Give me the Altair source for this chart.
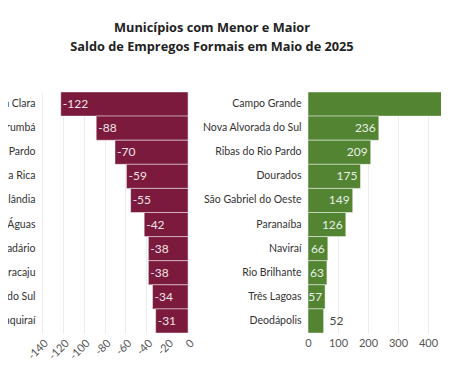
import altair as alt
import pandas as pd

neg_names = ["Água Clara", "Corumbá", "Santa Rita do Pardo", "Costa Rica", "Sidrolândia",
             "Paraíso das Águas", "Ladário", "Maracaju", "Chapadão do Sul", "Itaquiraí"]
neg_values = [-122, -88, -70, -59, -55, -42, -38, -38, -34, -31]
pos_names = ["Campo Grande", "Nova Alvorada do Sul", "Ribas do Rio Pardo", "Dourados",
             "São Gabriel do Oeste", "Paranaíba", "Naviraí", "Rio Brilhante", "Três Lagoas", "Deodápolis"]
pos_values = [620, 236, 209, 175, 149, 126, 66, 63, 57, 52]
neg_ticks = [-140, -120, -100, -80, -60, -40, -20, 0]
pos_ticks = [0, 100, 200, 300, 400, 500, 600, 700]
title_lines = ["Municípios com Menor e Maior", "Saldo de Empregos Formais em Maio de 2025"]

neg_df = pd.DataFrame({"municipio": neg_names, "saldo": neg_values})
pos_df = pd.DataFrame({"municipio": pos_names, "saldo": pos_values})

FONT = "Lato"
MAROON = "#7b1a3c"
GREEN = "#528432"


def y_enc(order):
    return alt.Y("municipio:N", sort=order, title=None,
                 scale=alt.Scale(paddingInner=0, paddingOuter=0),
                 axis=alt.Axis(domain=False, ticks=False, labelPadding=7, labelFont=FONT,
                               labelFontSize=10.5, labelColor="#333333", labelLimit=300))


def x_enc(domain, vals, angle):
    return alt.X("saldo:Q", scale=alt.Scale(domain=domain, nice=False),
                 axis=alt.Axis(values=vals, labelAngle=angle, grid=True, gridColor="#ececec",
                               domain=False, ticks=False, labelFont=FONT, labelFontSize=11,
                               labelColor="#555555", labelPadding=4, title=None,
                               labelOverlap=False, labelFlush=False,
                               labelExpr="datum.value + ''"))


left_bars = alt.Chart(neg_df).mark_bar(color=MAROON, stroke="white", strokeWidth=1,
                                       strokeOpacity=0.45).encode(
    x=x_enc([-140, 0], neg_ticks, -45), y=y_enc(neg_names))
left_text = alt.Chart(neg_df).transform_calculate(lab="datum.saldo + ''").mark_text(
    align="left", dx=2, color="white", opacity=0.88, font=FONT, fontSize=12).encode(
    x=x_enc([-140, 0], neg_ticks, -45), y=y_enc(neg_names), text="lab:N")
left = (left_bars + left_text).properties(width=146, height=241)

right_bars = alt.Chart(pos_df).mark_bar(color=GREEN, stroke="white", strokeWidth=1,
                                        strokeOpacity=0.45).encode(
    x=x_enc([0, 700], pos_ticks, 0), y=y_enc(pos_names))
right_in = alt.Chart(pos_df).transform_filter("datum.saldo >= 55").mark_text(
    align="right", dx=-3, color="white", opacity=0.88, font=FONT, fontSize=12).encode(
    x=x_enc([0, 700], pos_ticks, 0), y=y_enc(pos_names), text="saldo:Q")
right_out = alt.Chart(pos_df).transform_filter("datum.saldo < 55").mark_text(
    align="left", dx=6, color="#444444", font=FONT, fontSize=12).encode(
    x=x_enc([0, 700], pos_ticks, 0), y=y_enc(pos_names), text="saldo:Q")
right = (right_bars + right_in + right_out).properties(width=210, height=241)

chart = alt.hconcat(left, right, spacing=120, bounds="flush").properties(
    title=alt.TitleParams(title_lines, font="Open Sans", fontSize=12.75, fontWeight="bold",
                          color="#222222", anchor="start", align="center", frame="group",
                          dx=170, offset=38, lineHeight=19),
    padding={"left": -64, "top": 13, "right": -87, "bottom": 0},
).configure_view(stroke=None).configure_axis(labelOverlap=False)

chart.save("out.html", embed_options={"renderer": "svg", "actions": False})
